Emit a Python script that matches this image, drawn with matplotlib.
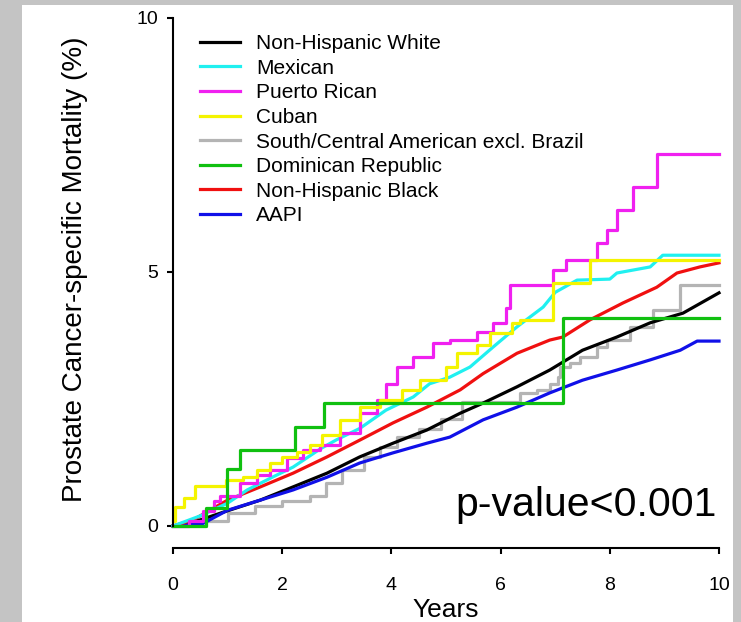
import matplotlib
matplotlib.use("Agg")
import matplotlib.pyplot as plt
from matplotlib.patches import Rectangle

plt.rcParams.update({
    "font.family": ["Liberation Sans", "DejaVu Sans"],
    "font.size": 13,
})

# Kaplan-Meier style cumulative mortality (years, %)
white_t = [0, 0.5, 1.0, 1.6, 2.2, 2.82, 3.42, 4.03, 4.65, 5.26, 5.68, 6.3, 6.9, 7.5, 8.13, 8.74, 9.34, 10]
white_v = [0, 0.12, 0.3, 0.51, 0.77, 1.04, 1.36, 1.63, 1.89, 2.22, 2.42, 2.74, 3.07, 3.46, 3.72, 4.0, 4.19, 4.59]

mex_t = [0, 0.5, 1.0, 1.36, 1.8, 2.2, 2.7, 3.0, 3.42, 3.9, 4.4, 4.7, 5.07, 5.44, 5.86, 6.3, 6.78, 7.0, 7.4, 8.0, 8.13, 8.74, 8.97, 10]
mex_v = [0, 0.2, 0.45, 0.71, 0.95, 1.16, 1.52, 1.7, 1.92, 2.28, 2.54, 2.8, 2.93, 3.13, 3.52, 3.92, 4.31, 4.6, 4.84, 4.86, 4.98, 5.1, 5.33, 5.33]

pr_t = [0, 0.3, 0.55, 0.75, 0.86, 1.23, 1.54, 1.78, 2.09, 2.38, 2.69, 3.06, 3.42, 3.73, 3.9, 4.1, 4.4, 4.76, 5.07, 5.57,
        5.86, 6.1, 6.17, 6.96, 7.2, 7.77, 7.95, 8.13, 8.43, 8.86, 10]
pr_v = [0, 0.1, 0.3, 0.5, 0.6, 0.84, 1.0, 1.1, 1.34, 1.5, 1.6, 1.83, 2.22, 2.48, 2.8, 3.13, 3.33, 3.6, 3.66, 3.82,
        4.0, 4.3, 4.74, 5.04, 5.24, 5.57, 5.83, 6.22, 6.67, 7.32, 7.32]

cuban_t = [0, 0.03, 0.2, 0.4, 0.97, 1.28, 1.53, 1.78, 2.0, 2.27, 2.5, 2.72, 3.06, 3.42, 3.8, 4.2, 4.52, 5.0, 5.2,
           5.57, 5.8, 6.2, 6.36, 6.96, 7.64, 10]
cuban_v = [0.1, 0.37, 0.55, 0.79, 0.9, 0.97, 1.1, 1.24, 1.36, 1.46, 1.6, 1.8, 2.09, 2.34, 2.48, 2.68, 2.87, 3.13, 3.4,
           3.56, 3.8, 4.0, 4.06, 4.78, 5.24, 5.24]

sca_t = [0, 0.6, 1.0, 1.5, 2.0, 2.5, 2.8, 3.1, 3.5, 3.8, 4.1, 4.5, 4.9, 5.3, 6.36, 6.67, 6.9, 7.05, 7.09, 7.27, 7.45,
         7.77, 7.95, 8.37, 8.79, 9.29, 10]
sca_v = [0, 0.1, 0.25, 0.4, 0.5, 0.6, 0.85, 1.1, 1.35, 1.55, 1.75, 1.9, 2.1, 2.45, 2.62, 2.68, 2.8, 2.93, 3.13, 3.2, 3.33,
         3.52, 3.66, 3.92, 4.25, 4.74, 4.74]

dom_t = [0, 0.6, 0.99, 1.23, 2.23, 2.77, 7.15, 10]
dom_v = [0, 0.36, 1.12, 1.5, 1.95, 2.42, 4.1, 4.1]

black_t = [0, 0.37, 1.0, 1.6, 2.2, 2.82, 3.42, 4.03, 4.65, 5.26, 5.68, 6.3, 6.9, 7.14, 7.64, 8.24, 8.86, 9.23, 9.65, 10]
black_v = [0, 0.12, 0.51, 0.77, 1.04, 1.36, 1.69, 2.03, 2.34, 2.68, 3.0, 3.4, 3.66, 3.72, 4.06, 4.39, 4.7, 4.98, 5.1, 5.18]

aapi_t = [0, 0.55, 1.0, 1.6, 2.2, 2.82, 3.42, 4.03, 4.65, 5.07, 5.68, 6.3, 6.9, 7.5, 8.13, 8.74, 9.29, 9.6, 10]
aapi_v = [0, 0.05, 0.31, 0.51, 0.71, 0.96, 1.24, 1.44, 1.63, 1.75, 2.09, 2.34, 2.62, 2.87, 3.07, 3.27, 3.46, 3.64, 3.64]

fig = plt.figure(figsize=(7.41, 6.22), dpi=100, facecolor="#c4c4c4")
# white page area behind the chart
fig.patches.append(Rectangle((22 / 741, 0), 711 / 741, 617 / 622, transform=fig.transFigure,
                             facecolor="white", edgecolor="none", zorder=-5))

ax = fig.add_axes([173 / 741, 96 / 622, 546 / 741, 508 / 622])
ax.set_zorder(2)
ax.set_facecolor("none")

lw = 2.3
# drawn bottom to top, legend order handled below
h_sca, = ax.plot(sca_t, sca_v, color="#b4b4b4", lw=lw, drawstyle="steps-post", clip_on=False)
h_white, = ax.plot(white_t, white_v, color="black", lw=lw, clip_on=False)
h_aapi, = ax.plot(aapi_t, aapi_v, color="#1010e8", lw=lw, clip_on=False)
h_black, = ax.plot(black_t, black_v, color="#f01010", lw=lw, clip_on=False)
h_mex, = ax.plot(mex_t, mex_v, color="#20f0f0", lw=lw, clip_on=False)
h_pr, = ax.plot(pr_t, pr_v, color="#f020f0", lw=lw, drawstyle="steps-post", clip_on=False)
h_cuban, = ax.plot(cuban_t, cuban_v, color="#f4f400", lw=lw, drawstyle="steps-post", clip_on=False)
h_dom, = ax.plot(dom_t, dom_v, color="#10c010", lw=lw, drawstyle="steps-post", clip_on=False)

handles = [h_white, h_mex, h_pr, h_cuban, h_sca, h_dom, h_black, h_aapi]
labels = ["Non-Hispanic White", "Mexican", "Puerto Rican", "Cuban",
          "South/Central American excl. Brazil", "Dominican Republic", "Non-Hispanic Black", "AAPI"]
ax.legend(handles, labels, loc="upper left", bbox_to_anchor=(200 / 741, 1 - 34 / 622),
          bbox_transform=fig.transFigure, frameon=False, fontsize=15, borderpad=0,
          borderaxespad=0, labelspacing=0.27, handlelength=1.9, handletextpad=0.8)

ax.set_xlim(0, 10)
ax.set_ylim(0, 10)
ax.set_xticks([0, 2, 4, 6, 8, 10])
ax.set_yticks([0, 5, 10])
ax.spines["top"].set_visible(False)
ax.spines["right"].set_visible(False)
ax.spines["bottom"].set_position(("outward", 16))
ax.spines["left"].set_linewidth(1.5)
ax.spines["bottom"].set_linewidth(1.5)
ax.tick_params(direction="out", length=4.5, width=1.5, labelsize=14)
ax.tick_params(axis="x", pad=16)
ax.tick_params(axis="y", pad=6)

ax.set_xlabel("Years", fontsize=19, labelpad=3)
ax.set_ylabel("Prostate Cancer-specific Mortality (%)", fontsize=20)
ax.yaxis.set_label_coords(-0.155, 0.505)

ax.text(0.995, 0.02, "p-value<0.001", transform=ax.transAxes, ha="right", va="baseline", fontsize=29.5)

fig.savefig("out.png", dpi=100, facecolor=fig.get_facecolor())
